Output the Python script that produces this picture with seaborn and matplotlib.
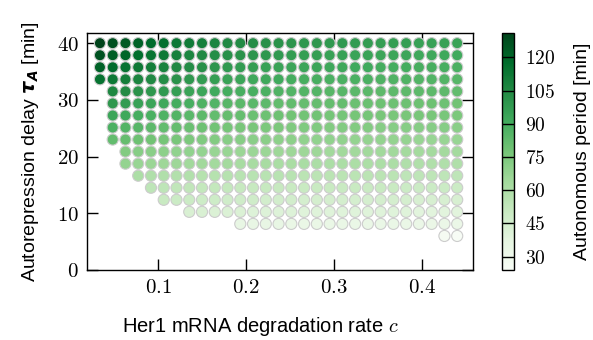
import numpy as np
import pandas as pd
import matplotlib
matplotlib.use("Agg")
import matplotlib.pyplot as plt
import seaborn as sns

# ------------------------------------------------------------
# Dati
# ------------------------------------------------------------

# tasso di degradazione mRNA Her1 (colonne)
c_values = [0.034, 0.0485, 0.063, 0.0775, 0.092, 0.1065, 0.121, 0.1355, 0.15,
            0.1645, 0.179, 0.1935, 0.208, 0.2225, 0.237, 0.2515, 0.266, 0.2805,
            0.295, 0.3095, 0.324, 0.3385, 0.353, 0.3675, 0.382, 0.3965, 0.411,
            0.4255, 0.44]

# ritardo di autorepressione (righe, dall'alto verso il basso)
tau_values = [40.0, 37.875, 35.75, 33.625, 31.5, 29.375, 27.25, 25.125, 23.0,
              20.875, 18.75, 16.625, 14.5, 12.375, 10.25, 8.125, 6.0]

N = None
# periodo autonomo [min], None = nessun punto
period_rows = [
    [131, 127, 124, 121, 118, 116, 113, 111, 109, 107, 105, 104, 103, 102, 101, 100, 99, 99, 98, 98, 97, 97, 96, 96, 96, 95, 95, 95, 94],
    [126, 122, 120, 117, 114, 112, 109, 107, 105, 103, 102, 101, 100, 99, 98, 97, 96, 96, 95, 95, 94, 94, 93, 93, 93, 92, 92, 92, 91],
    [121, 118, 115, 112, 110, 108, 105, 103, 102, 100, 98, 97, 96, 95, 94, 93, 93, 93, 92, 92, 91, 91, 90, 90, 90, 89, 89, 89, 88],
    [115, 112, 110, 107, 105, 103, 101, 99, 97, 96, 94, 93, 92, 92, 91, 90, 89, 89, 88, 88, 88, 88, 87, 87, 87, 86, 86, 86, 85],
    [N, 106, 104, 101, 99, 98, 96, 94, 93, 91, 90, 89, 89, 88, 87, 86, 86, 86, 85, 85, 84, 84, 83, 83, 83, 83, 83, 83, 82],
    [N, 99, 97, 95, 93, 92, 90, 89, 87, 86, 85, 84, 84, 83, 82, 82, 81, 81, 81, 81, 80, 80, 79, 79, 79, 79, 79, 79, 78],
    [N, 93, 92, 90, 88, 87, 86, 84, 83, 82, 81, 81, 80, 79, 79, 78, 78, 78, 77, 77, 77, 77, 76, 76, 76, 76, 76, 76, 75],
    [N, 88, 86, 85, 83, 82, 81, 80, 79, 78, 77, 76, 76, 75, 75, 74, 74, 74, 73, 73, 73, 73, 72, 72, 72, 72, 72, 72, 71],
    [N, 82, 81, 79, 78, 77, 76, 75, 74, 73, 72, 72, 71, 71, 70, 70, 69, 69, 69, 69, 68, 68, 68, 68, 68, 67, 67, 67, 67],
    [N, N, 73, 72, 71, 70, 69, 69, 68, 67, 67, 66, 66, 66, 65, 65, 65, 65, 64, 64, 64, 64, 64, 64, 63, 63, 63, 63, 63],
    [N, N, 68, 67, 66, 65, 65, 64, 64, 63, 63, 62, 62, 62, 61, 61, 61, 60, 60, 60, 60, 60, 60, 60, 59, 59, 59, 59, 59],
    [N, N, N, 60, 59, 59, 58, 58, 57, 57, 57, 56, 56, 56, 56, 56, 55, 55, 55, 55, 55, 55, 55, 55, 54, 54, 54, 54, 54],
    [N, N, N, N, 54, 54, 53, 53, 52, 52, 52, 51, 51, 51, 51, 50, 50, 50, 50, 50, 50, 50, 50, 50, 49, 49, 49, 49, 49],
    [N, N, N, N, N, 50, 49, 49, 48, 48, 47, 47, 47, 46, 46, 46, 45, 45, 45, 45, 45, 45, 45, 45, 45, 44, 44, 44, 44],
    [N] * 7 + [43, 43, 42, 42, 42, 41, 41, 41, 41, 40, 40, 40, 40, 40, 40, 40, 40, 40, 39, 39, 39, 39],
    [N] * 11 + [35, 35, 35, 35, 34, 34, 34, 34, 34, 34, 34, 34, 34, 34, 33, 33, 33, 33],
    [N] * 27 + [26, 24],
]

x_ticks = [0.1, 0.2, 0.3, 0.4]
y_ticks = [0, 10, 20, 30, 40]
cbar_ticks = [30, 45, 60, 75, 90, 105, 120]

# ------------------------------------------------------------
# Stile
# ------------------------------------------------------------

sns.set_style("ticks")
plt.rcParams["font.family"] = ["Liberation Sans", "DejaVu Sans"]
plt.rcParams["text.color"] = "black"
plt.rcParams["axes.labelcolor"] = "black"
# cifre in stile Computer Modern, tau_A in grassetto corsivo
plt.rcParams["mathtext.fontset"] = "custom"
plt.rcParams["mathtext.rm"] = "cmr10"
plt.rcParams["mathtext.it"] = "cmmi10"
plt.rcParams["mathtext.bf"] = "DejaVu Sans:italic:bold"

# tabella lunga per seaborn
records = []
for tau, vals in zip(tau_values, period_rows):
    for c, p in zip(c_values, vals):
        if p is not None:
            records.append({"c": c, "tau": tau, "period": p})
df = pd.DataFrame(records)
vmin, vmax = df["period"].min(), df["period"].max()

fig = plt.figure(figsize=(5.93, 3.40), dpi=100)
ax = fig.add_axes([0.1467, 0.206, 0.651, 0.697])
cax = fig.add_axes([0.846, 0.206, 0.0208, 0.697])

sns.scatterplot(
    data=df, x="c", y="tau", hue="period",
    palette="Greens", hue_norm=(vmin, vmax),
    s=64, edgecolor="#cccccc", linewidth=0.8,
    legend=False, ax=ax, zorder=3
)

ax.set_xlim(0.0193, 0.458)
ax.set_ylim(0, 41.8)
ax.set_xticks(x_ticks)
ax.set_xticklabels([f"$\\mathrm{{{t:g}}}$" for t in x_ticks])
ax.set_yticks(y_ticks)
ax.set_yticklabels([f"$\\mathrm{{{t:g}}}$" for t in y_ticks])
ax.tick_params(direction="in", top=True, right=True, length=8, width=1,
               labelsize=15, pad=6, colors="black")
for sp in ax.spines.values():
    sp.set_color("black")
    sp.set_linewidth(1)

ax.set_xlabel("Her1 mRNA degradation rate $c$", fontsize=14.5, labelpad=13, x=0.448)
ax.set_ylabel(r"Autorepression delay $\mathbf{\tau_A}$ [min]", fontsize=14, labelpad=11)

# barra colori
sm = plt.cm.ScalarMappable(cmap="Greens", norm=plt.Normalize(vmin, vmax))
cb = fig.colorbar(sm, cax=cax)
cb.set_ticks(cbar_ticks)
cb.set_ticklabels([f"$\\mathrm{{{t}}}$" for t in cbar_ticks])
cb.outline.set_linewidth(1)
cb.outline.set_edgecolor("black")
cax.tick_params(length=0, labelsize=14, pad=8, colors="black")
for t in cbar_ticks:
    cax.axhline(t, color="black", lw=1)
cb.set_label("Autonomous period [min]", fontsize=14, labelpad=13)

fig.savefig("out.png", dpi=100)
